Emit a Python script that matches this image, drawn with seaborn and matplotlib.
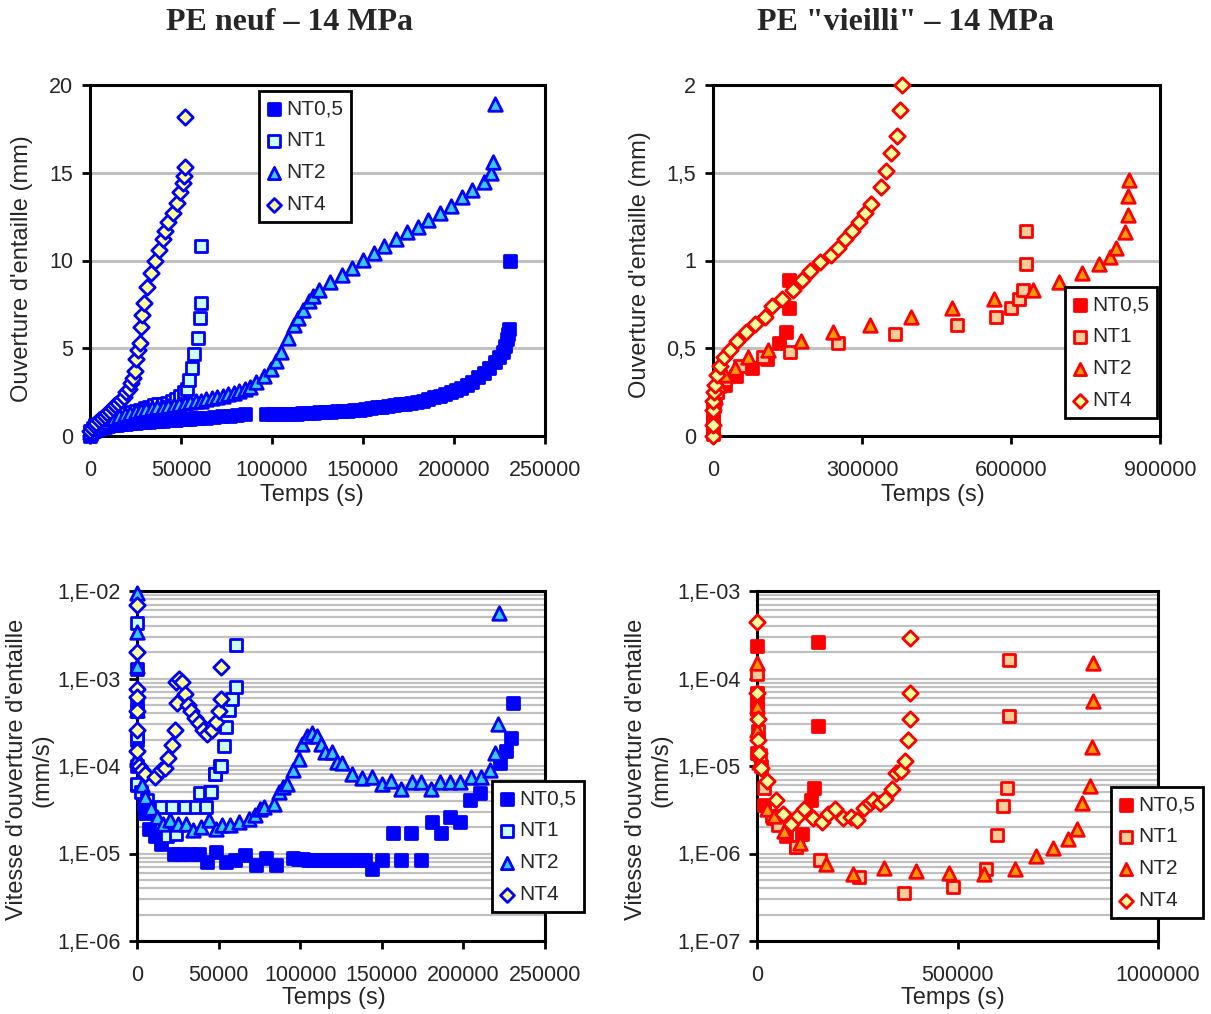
import matplotlib
matplotlib.use('Agg')
import matplotlib.pyplot as plt
import seaborn as sns
from matplotlib.ticker import FuncFormatter, LogLocator, NullFormatter
import numpy as np

# ---------------- Data ----------------
# PE neuf - ouverture d'entaille (mm) vs temps (s)
neuf_nt05_t = [0, 500, 1000, 2000, 3000, 4500, 6000, 8000, 10000, 12500,
               15000, 17500, 20000, 22500, 25000, 27500, 30000, 32500, 35000, 37500,
               40000, 42500, 45000, 47500, 50000, 52500, 55000, 57500, 60000, 64000,
               68300, 72500, 76700, 80800, 85100,
               96600, 100500, 104000, 107200, 110300, 113500, 116600, 119700, 122900, 126000,
               129200, 132300, 135500, 138600, 141800, 145000, 148100, 151200, 154400, 157500,
               160700, 163800, 167000, 170100, 173300, 176400, 179600, 182700, 185900, 189000,
               192200, 195300, 198500, 201200, 203800, 207000, 210100, 213200, 216400, 219500,
               222700, 224800, 226900, 228000, 229000, 229600, 230000, 230700]
neuf_nt05_o = [0.0, 0.1, 0.2, 0.3, 0.35, 0.4, 0.45, 0.5, 0.55, 0.6,
               0.63, 0.66, 0.7, 0.72, 0.75, 0.77, 0.8, 0.82, 0.84, 0.86,
               0.88, 0.9, 0.92, 0.94, 0.95, 0.97, 0.99, 1.0, 1.02, 1.05,
               1.08, 1.12, 1.15, 1.18, 1.24,
               1.23, 1.24, 1.25, 1.26, 1.27, 1.28, 1.29, 1.31, 1.33, 1.34,
               1.36, 1.38, 1.40, 1.42, 1.45, 1.47, 1.50, 1.55, 1.60, 1.63,
               1.67, 1.71, 1.75, 1.80, 1.85, 1.90, 1.95, 2.02, 2.10, 2.20,
               2.30, 2.40, 2.50, 2.62, 2.75, 2.92, 3.10, 3.35, 3.60, 3.90,
               4.20, 4.50, 4.80, 5.10, 5.50, 5.80, 6.07, 10.0]
neuf_nt1_t = [0, 1500, 3000, 5000, 7000, 9000, 11000, 13000, 15000, 17500,
              20000, 22500, 25000, 27500, 30000, 32500, 35000, 37500, 40000, 42500,
              45000, 47500, 49500, 51500, 53200, 54600, 56100, 57400, 59200, 60300,
              61000, 61000]
neuf_nt1_o = [0.3, 0.45, 0.6, 0.7, 0.8, 0.9, 1.0, 1.05, 1.1, 1.2,
              1.3, 1.35, 1.45, 1.5, 1.6, 1.65, 1.75, 1.8, 1.85, 1.9,
              2.0, 2.1, 2.3, 2.5, 2.7, 3.2, 3.9, 4.7, 5.6, 6.7,
              7.6, 10.8]
neuf_nt2_t = [0, 2000, 4000, 7000, 10000, 13000, 16000, 19000, 22000, 25000,
              28000, 31000, 34000, 37000, 40000, 43000, 46000, 49000, 52000, 55000,
              58000, 61000, 64000, 67000, 70000, 73000, 76000, 79000, 82000, 85000,
              88000, 91400, 95600, 99400, 102300, 105000, 108600, 112000, 114500, 117000,
              120400, 122500, 126000, 131700, 138200, 143900, 149800, 156100, 161800, 168100,
              174400, 180000, 185900, 192200, 198100, 204200, 210100, 216400, 220200, 221700,
              222300]
neuf_nt2_o = [0.2, 0.45, 0.65, 0.8, 0.95, 1.05, 1.15, 1.25, 1.32, 1.4,
              1.47, 1.52, 1.58, 1.63, 1.68, 1.73, 1.78, 1.83, 1.87, 1.92,
              1.97, 2.02, 2.08, 2.15, 2.22, 2.3, 2.38, 2.46, 2.55, 2.65,
              2.8, 3.1, 3.4, 3.8, 4.3, 4.8, 5.6, 6.3, 6.7, 7.2,
              7.7, 8.0, 8.3, 8.8, 9.2, 9.6, 10.05, 10.4, 10.8, 11.2,
              11.6, 11.9, 12.3, 12.7, 13.1, 13.6, 14.0, 14.5, 15.0, 15.6,
              18.9]
neuf_nt4_t = [0, 1000, 2000, 3500, 5000, 6500, 8000, 9500, 11000, 12500,
              14000, 15500, 17000, 18500, 20000, 21500, 22500, 23500, 24600, 25200,
              26500, 27300, 28000, 28800, 29800, 31500, 33600, 35700, 37800, 39900,
              41400, 43000, 45600, 47700, 49400, 51000, 51900, 52300, 52100]
neuf_nt4_o = [0.3, 0.45, 0.6, 0.75, 0.9, 1.0, 1.15, 1.3, 1.45, 1.6,
              1.75, 1.9, 2.05, 2.25, 2.5, 2.7, 3.0, 3.3, 3.7, 4.4,
              4.9, 5.3, 6.2, 6.9, 7.6, 8.5, 9.3, 10.0, 10.6, 11.2,
              11.7, 12.2, 12.7, 13.3, 13.9, 14.4, 14.8, 15.3, 18.2]

# PE "vieilli" - ouverture d'entaille (mm)
vieil_nt05_t = [0, 0, 0, 0, 3900, 7800, 23300, 46600, 77700, 108800,
                132100, 146100, 153100, 153100]
vieil_nt05_o = [0.02, 0.08, 0.13, 0.17, 0.21, 0.25, 0.29, 0.34, 0.39, 0.44,
                0.53, 0.59, 0.73, 0.89]
vieil_nt1_t = [0, 0, 1600, 7800, 23300, 54400, 101000, 155400, 252600, 366800,
               491100, 568900, 600700, 615400, 623200, 629400, 631000]
vieil_nt1_o = [0.01, 0.08, 0.17, 0.25, 0.32, 0.40, 0.45, 0.48, 0.53, 0.58,
               0.63, 0.68, 0.73, 0.78, 0.83, 0.98, 1.17]
vieil_nt2_t = [0, 3900, 11700, 24900, 45100, 69900, 110300, 176400, 240900, 317000,
               398700, 480300, 566100, 645300, 695800, 742500, 777400, 799200, 812400, 829500,
               834900, 836500, 838000]
vieil_nt2_o = [0.10, 0.22, 0.29, 0.35, 0.39, 0.45, 0.49, 0.54, 0.59, 0.63,
               0.68, 0.73, 0.78, 0.83, 0.88, 0.93, 0.98, 1.02, 1.07, 1.16,
               1.26, 1.37, 1.46]
vieil_nt4_t = [0, 0, 0, 0, 1600, 3900, 7800, 14000, 21800, 35000,
               48200, 66100, 85500, 104900, 118100, 139900, 160900, 178700, 194300, 216000,
               237000, 252500, 265700, 279700, 293700, 306900, 318600, 338000, 348100, 359000,
               370600, 376900, 380800]
vieil_nt4_o = [0.0, 0.06, 0.15, 0.20, 0.25, 0.29, 0.35, 0.40, 0.45, 0.49,
               0.54, 0.59, 0.64, 0.68, 0.74, 0.78, 0.83, 0.89, 0.94, 0.99,
               1.03, 1.07, 1.12, 1.17, 1.22, 1.27, 1.32, 1.42, 1.51, 1.61,
               1.71, 1.86, 2.0]

# PE neuf - vitesse d'ouverture (mm/s)
vneuf_nt05_t = [0, 0, 0, 0, 4000, 5200, 7500, 11000, 14600, 22800,
                26300, 32200, 38000, 42700, 48600, 54500, 60300, 66200, 72800, 79100,
                85000, 95500, 98500, 101500, 104500, 107500, 110500, 113500, 116500, 119500,
                122500, 125500, 128500, 131500, 134500, 137500, 140000, 143700, 150000, 156600,
                162000, 167900, 174200, 180600, 186400, 191800, 197700, 204200, 210100, 222300,
                226300, 228900, 230600]
vneuf_nt05_v = [5e-4, 2e-4, 1e-4, 6e-5, 3.7e-5, 2.9e-5, 1.9e-5, 1.6e-5, 1.3e-5, 1e-5,
                1e-5, 1e-5, 1e-5, 8e-6, 1.05e-5, 8e-6, 8.4e-6, 9.5e-6, 7.3e-6, 9e-6,
                7.3e-6, 9e-6, 8.6e-6, 8.6e-6, 8.4e-6, 8.4e-6, 8.4e-6, 8.4e-6, 8.4e-6, 8.4e-6,
                8.4e-6, 8.4e-6, 8.4e-6, 8.4e-6, 8.4e-6, 8.4e-6, 8.4e-6, 6.6e-6, 8.4e-6, 1.7e-5,
                8.4e-6, 1.7e-5, 8.4e-6, 2.3e-5, 1.7e-5, 2.6e-5, 2.3e-5, 4.1e-5, 4.9e-5, 1.07e-4,
                1.5e-4, 2.1e-4, 5.3e-4]
vneuf_nt1_t = [0, 0, 0, 0, 0, 2300, 6300, 15000, 18100, 21200,
               24200, 29300, 36400, 38400, 42500, 44500, 45100, 47600, 47900, 50600,
               51400, 53300, 54500, 56300, 58000, 60800, 60800]
vneuf_nt1_v = [4.3e-3, 1.27e-3, 4.2e-4, 2.2e-4, 6.3e-5, 5.1e-5, 4.1e-5, 3.4e-5, 1.6e-5, 3.4e-5,
               1.65e-5, 3.4e-5, 3.4e-5, 4.9e-5, 3.4e-5, 5.1e-5, 5.1e-5, 8.2e-5, 8.2e-5, 1.0e-4,
               1.0e-4, 1.7e-4, 2.8e-4, 4.4e-4, 5.9e-4, 7.9e-4, 2.4e-3]
vneuf_nt2_t = [0, 0, 0, 0, 0, 2800, 5200, 8700, 12200, 15700,
               20400, 25100, 29800, 34500, 39200, 43900, 48600, 52100, 56800, 62700,
               68500, 72000, 75600, 77900, 83800, 87300, 89700, 92000, 95500, 99100,
               101400, 104300, 107300, 110300, 112700, 115500, 119700, 122500, 125600, 131500,
               137800, 143700, 150000, 155900, 162000, 168300, 174200, 180000, 185900, 191800,
               197700, 204700, 210600, 216000, 219500, 221100, 221900]
vneuf_nt2_v = [9.6e-3, 3.4e-3, 1.4e-3, 4.4e-4, 1.27e-4, 6e-5, 4.4e-5, 3.3e-5, 2.6e-5, 2.2e-5,
               2.4e-5, 2.2e-5, 2.2e-5, 1.85e-5, 2e-5, 2.4e-5, 1.9e-5, 2.1e-5, 2.1e-5, 2.3e-5,
               2.5e-5, 2.75e-5, 3.2e-5, 3.4e-5, 3.7e-5, 5.1e-5, 5.8e-5, 6.3e-5, 9e-5, 1.2e-4,
               1.8e-4, 2.2e-4, 2.4e-4, 2.2e-4, 1.8e-4, 1.45e-4, 1.45e-4, 1.1e-4, 1.07e-4, 8.1e-5,
               7.2e-5, 7.5e-5, 6.3e-5, 6.8e-5, 5.5e-5, 6.5e-5, 6.5e-5, 5.5e-5, 6.5e-5, 6.5e-5,
               6.6e-5, 7.4e-5, 7.4e-5, 9.1e-5, 1.39e-4, 3.0e-4, 5.65e-3]
vneuf_nt4_t = [0, 0, 0, 0, 0, 0, 0, 940, 2800, 5200,
               11000, 14600, 17400, 19300, 21600, 23200, 24400, 23900, 25800, 27500,
               29300, 31000, 33300, 35700, 38000, 40400, 42700, 45800, 48600, 50200,
               51400, 51600]
vneuf_nt4_v = [7e-3, 2e-3, 7.6e-4, 6.2e-4, 4.2e-4, 2.6e-4, 1.5e-4, 1.0e-4, 8.9e-5, 8.1e-5,
               7.4e-5, 8.9e-5, 9.6e-5, 1.23e-4, 1.74e-4, 2.6e-4, 5.2e-4, 9.2e-4, 1.0e-3, 9.2e-4,
               6.6e-4, 5.0e-4, 4.2e-4, 3.5e-4, 3.1e-4, 2.6e-4, 2.35e-4, 2.6e-4, 3.2e-4, 4.2e-4,
               5.9e-4, 1.34e-3]

# PE "vieilli" - vitesse d'ouverture (mm/s)
vvieil_nt05_t = [0, 0, 0, 0, 0, 9700, 17400, 38700, 72600, 96800,
                 111300, 135500, 143300, 152000, 152000]
vvieil_nt05_v = [2.36e-4, 6.8e-5, 5.5e-5, 4.5e-5, 1.4e-5, 1.0e-5, 3.6e-6, 2.55e-6, 1.6e-6, 1.2e-6,
                 1.66e-6, 4.1e-6, 5.6e-6, 2.9e-5, 2.6e-4]
vvieil_nt1_t = [0, 2900, 7700, 17400, 36800, 53200, 96800, 157800, 253600, 365900,
                488900, 571200, 598300, 614700, 624400, 627300, 627300]
vvieil_nt1_v = [1.13e-4, 2.5e-5, 1.35e-5, 5.6e-6, 2.67e-6, 2.14e-6, 1.2e-6, 8.5e-7, 5.4e-7, 3.55e-7,
                4.15e-7, 6.6e-7, 1.63e-6, 3.5e-6, 5.6e-6, 3.7e-5, 1.63e-4]
vvieil_nt2_t = [0, 0, 0, 4800, 24200, 43600, 67800, 106500, 172300, 240100,
                316600, 396900, 479200, 566300, 643800, 697000, 737700, 774400, 798600, 811200,
                829600, 835400, 837300, 837300]
vvieil_nt2_v = [1.5e-4, 4.9e-5, 2.6e-5, 1.1e-5, 3.2e-6, 2.7e-6, 1.8e-6, 1.32e-6, 7.5e-7, 5.9e-7,
                6.8e-7, 6.3e-7, 6.0e-7, 5.8e-7, 6.6e-7, 9.3e-7, 1.16e-6, 1.45e-6, 1.9e-6, 3.8e-6,
                5.9e-6, 1.67e-5, 5.6e-5, 1.5e-4]
vvieil_nt4_t = [0, 0, 1900, 1900, 4800, 9700, 24200, 48400, 65800, 85200,
                101600, 118200, 140400, 162600, 176200, 193600, 214900, 234300, 249800, 266200,
                280700, 290400, 307800, 319500, 335900, 346600, 358200, 369800, 377500, 380400,
                382400, 382400]
vvieil_nt4_v = [4.4e-4, 6.8e-5, 3.4e-5, 2e-5, 1.4e-5, 9.5e-6, 6.7e-6, 4.1e-6, 2.86e-6, 2.2e-6,
                2.66e-6, 3.2e-6, 2.55e-6, 2.3e-6, 2.8e-6, 3.2e-6, 2.55e-6, 2.6e-6, 2.4e-6, 3.3e-6,
                3.8e-6, 4.1e-6, 3.8e-6, 4.2e-6, 5.5e-6, 8.3e-6, 8.7e-6, 1.13e-5, 1.96e-5, 3.4e-5,
                6.8e-5, 2.9e-4]

series_names = ['NT0,5', 'NT1', 'NT2', 'NT4']
markers = ['s', 's', '^', 'D']
msizes = [82, 82, 95, 62]
blue_faces = ['#0000FF', '#CCFFFF', '#33CCFF', '#FFFF99']
red_faces = ['#FF0000', '#FFCC99', '#FF9900', '#FFFF99']

# ---------------- Figure ----------------
sns.set_style('white')
plt.rcParams['font.family'] = ['Liberation Sans', 'DejaVu Sans']

W, H = 1211, 1014
fig = plt.figure(figsize=(W / 100, H / 100), dpi=100)


def axes_px(l, t, r, b):
    return fig.add_axes([l / W, 1 - b / H, (r - l) / W, (b - t) / H])


def draw(ax, data, faces, edge):
    for (t, v), name, m, s, fc in zip(data, series_names, markers, msizes, faces):
        sns.scatterplot(x=t, y=v, ax=ax, marker=m, s=s, color=fc, edgecolor=edge,
                        linewidth=2.0, label=name, clip_on=False, zorder=3)


def frame(ax, log=False):
    ax.grid(False)
    for sp in ax.spines.values():
        sp.set_visible(True)
        sp.set_color('black')
        sp.set_linewidth(2.2)
    ax.tick_params(which='major', direction='out', length=6, width=2, color='black',
                   labelsize=15.5, bottom=True, left=True)
    ax.tick_params(axis='x', pad=11)
    ax.tick_params(axis='y', pad=6)
    ax.xaxis.set_major_formatter(FuncFormatter(lambda v, p: f"{v:.0f}"))
    if log:
        ax.set_yscale('log')
        ax.yaxis.set_minor_locator(LogLocator(base=10, subs=np.arange(2, 10)))
        ax.yaxis.set_minor_formatter(NullFormatter())
        ax.tick_params(which='minor', length=0)
        ax.yaxis.set_major_formatter(
            FuncFormatter(lambda v, p: "1,E-%02d" % round(-np.log10(v))))
        ax.yaxis.grid(True, which='both', color='#C0C0C0', linewidth=1.6)
    else:
        ax.yaxis.grid(True, color='#C0C0C0', linewidth=2.2)
        ax.yaxis.set_major_formatter(
            FuncFormatter(lambda v, p: f"{v:g}".replace('.', ',')))
    ax.set_axisbelow(True)


def legend(ax, x, y):
    lg = ax.legend(loc='upper left', bbox_to_anchor=(x / W, 1 - y / H),
                   bbox_transform=fig.transFigure, borderaxespad=0, fontsize=15,
                   frameon=True, fancybox=False, framealpha=1, edgecolor='black',
                   scatterpoints=1, markerscale=0.9, handlelength=0.6,
                   handletextpad=0.3, borderpad=0.4, labelspacing=0.62)
    lg.get_frame().set_linewidth(2)


# PE neuf - ouverture
ax1 = axes_px(90, 85, 545, 436)
draw(ax1, [(neuf_nt05_t, neuf_nt05_o), (neuf_nt1_t, neuf_nt1_o),
           (neuf_nt2_t, neuf_nt2_o), (neuf_nt4_t, neuf_nt4_o)], blue_faces, '#0000FF')
frame(ax1)
ax1.set_xlim(0, 250000)
ax1.set_ylim(0, 20)
ax1.set_xticks([0, 50000, 100000, 150000, 200000, 250000])
ax1.set_yticks([0, 5, 10, 15, 20])
ax1.set_xlabel('Temps (s)', fontsize=17, va='center')
ax1.xaxis.set_label_coords(0.488, -0.167)
ax1.set_ylabel("Ouverture d'entaille (mm)", fontsize=17, va='center')
ax1.yaxis.set_label_coords(-0.149, 0.476)
legend(ax1, 259, 91)

# PE vieilli - ouverture
ax2 = axes_px(713, 85, 1160, 436)
draw(ax2, [(vieil_nt05_t, vieil_nt05_o), (vieil_nt1_t, vieil_nt1_o),
           (vieil_nt2_t, vieil_nt2_o), (vieil_nt4_t, vieil_nt4_o)], red_faces, '#FF0000')
frame(ax2)
ax2.set_xlim(0, 900000)
ax2.set_ylim(0, 2)
ax2.set_xticks([0, 300000, 600000, 900000])
ax2.set_yticks([0, 0.5, 1, 1.5, 2])
ax2.set_xlabel('Temps (s)', fontsize=17, va='center')
ax2.xaxis.set_label_coords(0.492, -0.167)
ax2.set_ylabel("Ouverture d'entaille (mm)", fontsize=17, va='center')
ax2.yaxis.set_label_coords(-0.163, 0.487)
legend(ax2, 1065, 287)

# PE neuf - vitesse
ax3 = axes_px(137, 591, 545, 941)
draw(ax3, [(vneuf_nt05_t, vneuf_nt05_v), (vneuf_nt1_t, vneuf_nt1_v),
           (vneuf_nt2_t, vneuf_nt2_v), (vneuf_nt4_t, vneuf_nt4_v)], blue_faces, '#0000FF')
frame(ax3, log=True)
ax3.set_xlim(0, 250000)
ax3.set_ylim(1e-6, 1e-2)
ax3.set_xticks([0, 50000, 100000, 150000, 200000, 250000])
ax3.set_xlabel('Temps (s)', fontsize=17, va='center')
ax3.xaxis.set_label_coords(0.483, -0.163)
ax3.set_ylabel("Vitesse d'ouverture d'entaille\n(mm/s)", fontsize=17, va='center',
               multialignment='center', linespacing=1.2)
ax3.yaxis.set_label_coords(-0.262, 0.489)
legend(ax3, 492, 781)

# PE vieilli - vitesse
ax4 = axes_px(757, 591, 1158, 941)
draw(ax4, [(vvieil_nt05_t, vvieil_nt05_v), (vvieil_nt1_t, vvieil_nt1_v),
           (vvieil_nt2_t, vvieil_nt2_v), (vvieil_nt4_t, vvieil_nt4_v)], red_faces, '#FF0000')
frame(ax4, log=True)
ax4.set_xlim(0, 1000000)
ax4.set_ylim(1e-7, 1e-3)
ax4.set_xticks([0, 500000, 1000000])
ax4.set_xlabel('Temps (s)', fontsize=17, va='center')
ax4.xaxis.set_label_coords(0.489, -0.163)
ax4.set_ylabel("Vitesse d'ouverture d'entaille\n(mm/s)", fontsize=17, va='center',
               multialignment='center', linespacing=1.2)
ax4.yaxis.set_label_coords(-0.27, 0.489)
legend(ax4, 1111, 787)

# titles
fig.text(290 / W, 1 - 22 / H, 'PE neuf – 14 MPa', ha='center', va='center',
         fontsize=23, fontweight='bold', family='Liberation Serif')
fig.text(905 / W, 1 - 22 / H, 'PE "vieilli" – 14 MPa', ha='center', va='center',
         fontsize=23, fontweight='bold', family='Liberation Serif')

fig.savefig('out.png', dpi=100)
